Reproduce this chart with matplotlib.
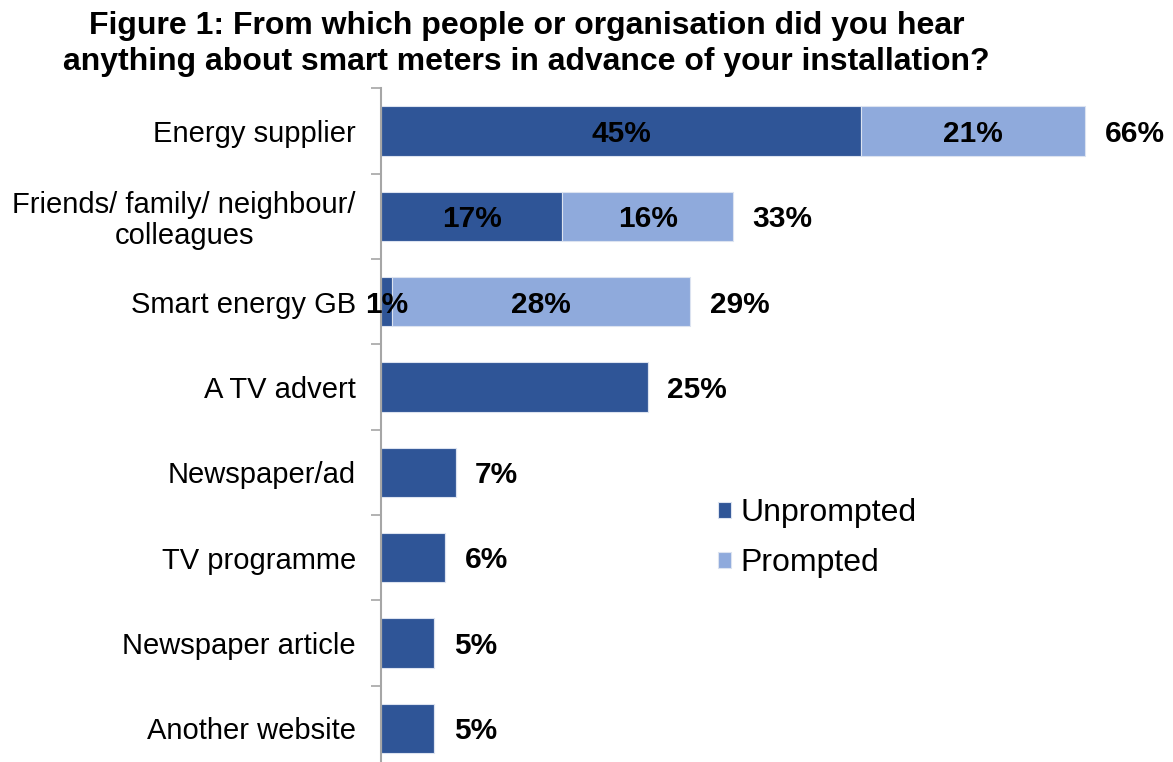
import matplotlib.pyplot as plt
import numpy as np

plt.rcParams['font.family'] = ['Liberation Sans', 'DejaVu Sans']

# survey responses, % of respondents
categories = ['Energy supplier', 'Friends/ family/ neighbour/\ncolleagues', 'Smart energy GB',
              'A TV advert', 'Newspaper/ad', 'TV programme', 'Newspaper article', 'Another website']
unprompted = [45, 17, 1, 25, 7, 6, 5, 5]
prompted = [21, 16, 28, 0, 0, 0, 0, 0]
totals = [66, 33, 29, 25, 7, 6, 5, 5]

dark = '#2F5597'
light = '#8FAADC'

fig = plt.figure(figsize=(11.73, 7.62), dpi=100)
ax = fig.add_axes([0.3248, -0.0118, 0.6368, 0.8957])

y = np.arange(len(categories))
h = 0.58
ax.barh(y, unprompted, height=h, color=dark, edgecolor='#DCE3F0', linewidth=0.8, label='Unprompted')
ax.barh(y, prompted, height=h, left=unprompted, color=light, edgecolor='#DCE3F0', linewidth=0.8, label='Prompted')

ax.set_xlim(0, 70)
ax.set_ylim(len(categories) - 0.5, -0.5)

# labels inside segments for the stacked rows, total at the end
lab_fs = 21.5
for i in range(len(categories)):
    if prompted[i] > 0:
        ax.annotate('%d%%' % unprompted[i], xy=(unprompted[i] / 2, i), xytext=(0, -2),
                    textcoords='offset points', ha='center', va='center',
                    fontsize=lab_fs, fontweight='bold')
        ax.annotate('%d%%' % prompted[i], xy=(unprompted[i] + prompted[i] / 2, i), xytext=(0, -2),
                    textcoords='offset points', ha='center', va='center',
                    fontsize=lab_fs, fontweight='bold')
    ax.annotate('%d%%' % totals[i], xy=(totals[i], i), xytext=(14, -2), textcoords='offset points',
                ha='left', va='center', fontsize=lab_fs, fontweight='bold')

ax.set_yticks(y)
ax.set_yticklabels(categories, fontsize=21, multialignment='center', linespacing=1.1)
ax.yaxis.set_tick_params(length=0, pad=18)

# tick marks between categories
ax.set_yticks(np.arange(-0.5, len(categories)), minor=True)
ax.tick_params(axis='y', which='minor', length=7, width=1.2, color='#A6A6A6', direction='out')
ax.set_xticks([])

for s in ['top', 'right', 'bottom']:
    ax.spines[s].set_visible(False)
ax.spines['left'].set_color('#A6A6A6')
ax.spines['left'].set_linewidth(1.5)

leg = fig.legend(loc='upper left', bbox_to_anchor=(0.612, 0.346), frameon=False, fontsize=23,
                 handlelength=0.4, handleheight=0.4, handletextpad=0.3, labelspacing=0.62,
                 borderpad=0, borderaxespad=0)

fig.text(0.449, 0.985, 'Figure 1: From which people or organisation did you hear\n'
         'anything about smart meters in advance of your installation?',
         ha='center', va='top', fontsize=23, fontweight='bold', linespacing=1.25)

fig.savefig('out.png', dpi=100)
